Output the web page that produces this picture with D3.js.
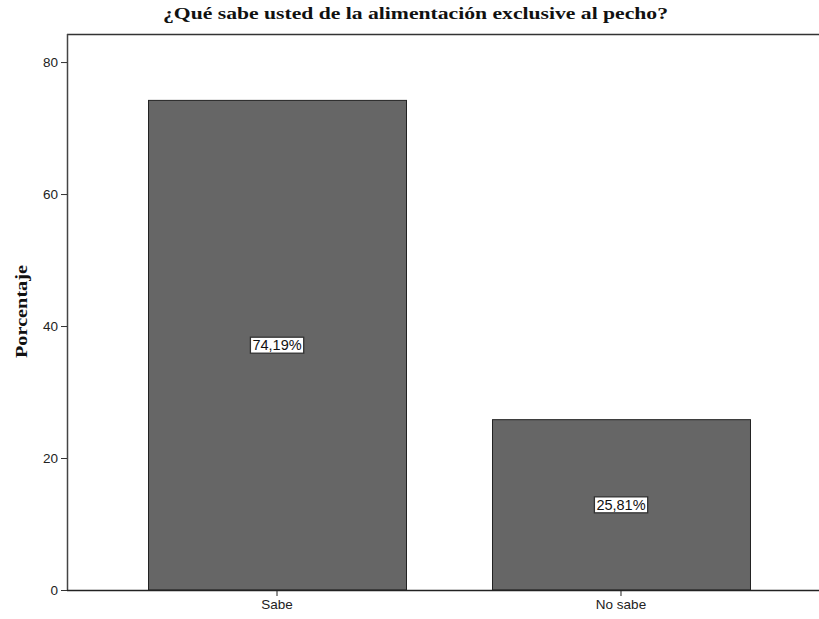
<!DOCTYPE html>
<html><head><meta charset="utf-8">
<script src="https://cdn.jsdelivr.net/npm/d3@7"></script>
<style>body{margin:0;background:#fff;}svg{display:block;}</style>
</head><body>
<script>
const categories = ["Sabe", "No sabe"];
const values = [74.19, 25.81];
const valueLabels = ["74,19%", "25,81%"];
const yTicks = [0, 20, 40, 60, 80];
const title = "¿Qué sabe usted de la alimentación exclusive al pecho?";
const yTitle = "Porcentaje";

const W = 819, H = 619;
const svg = d3.select("body").append("svg").attr("width", W).attr("height", H);

const x0 = 67, x1 = 831, yBottom = 590, yTop = 34;
const y = d3.scaleLinear().domain([0, 84.25]).range([yBottom, yTop]);
const x = d3.scaleBand().domain(categories).range([x0, x1]).paddingInner(0.25).paddingOuter(0.2355);

// top frame line
svg.append("line").attr("x1", x0).attr("x2", W).attr("y1", yTop + 0.5).attr("y2", yTop + 0.5)
  .attr("stroke", "#333").attr("stroke-width", 1.5);

// bars
const g = svg.append("g");
g.selectAll("rect.bar").data(categories).enter().append("rect")
  .attr("class", "bar")
  .attr("x", d => x(d) + 0.5)
  .attr("y", (d, i) => y(values[i]))
  .attr("width", x.bandwidth())
  .attr("height", (d, i) => yBottom - y(values[i]))
  .attr("fill", "#666666").attr("stroke", "#222").attr("stroke-width", 1);

const sans = "Liberation Sans, Arial, sans-serif";
const serif = "Liberation Serif, Times New Roman, serif";

// y axis
const yAxis = d3.axisLeft(y).tickValues(yTicks).tickSize(6).tickSizeOuter(0).tickFormat(d3.format("d"));
const ya = svg.append("g").attr("transform", `translate(${x0},0)`).call(yAxis);
ya.select(".domain").attr("d", `M0.5,${yTop}V${yBottom}`).attr("stroke", "#444").attr("stroke-width", 1.5);
ya.selectAll(".tick line").attr("stroke", "#333");
ya.selectAll(".tick text").attr("font-family", sans).attr("font-size", 13.5).attr("fill", "#222").attr("x", -9);

// x axis
const xAxis = d3.axisBottom(x).tickSize(6).tickSizeOuter(0);
const xa = svg.append("g").attr("transform", `translate(0,${yBottom})`).call(xAxis);
xa.select(".domain").attr("d", `M${x0},0.5H${W}`).attr("stroke", "#222").attr("stroke-width", 1.5);
xa.selectAll(".tick line").attr("stroke", "#222");
xa.selectAll(".tick text").attr("font-family", sans).attr("font-size", 13.5).attr("fill", "#222").attr("y", 9);

// value labels
const lab = svg.append("g").selectAll("g").data(categories).enter().append("g")
  .attr("transform", (d, i) => `translate(${x(d) + x.bandwidth() / 2},${y(values[i] / 2)})`);
lab.append("text").text((d, i) => valueLabels[i])
  .attr("text-anchor", "middle").attr("dy", "0.36em")
  .attr("font-family", sans).attr("font-size", 14.5).attr("fill", "#111");
lab.each(function () {
  const t = d3.select(this).select("text").node().getBBox();
  d3.select(this).insert("rect", "text")
    .attr("x", t.x - 2).attr("y", -8).attr("width", t.width + 4).attr("height", 16)
    .attr("fill", "#fff").attr("stroke", "#333").attr("stroke-width", 1.3);
});

// title
svg.append("text").text(title).attr("x", 163).attr("y", 19)
  .attr("textLength", 505).attr("lengthAdjust", "spacingAndGlyphs")
  .attr("font-family", serif).attr("font-weight", "bold")
  .attr("font-size", 17).attr("fill", "#111");

// y title
svg.append("text").text(yTitle).attr("transform", "translate(27,358) rotate(-90)")
  .attr("textLength", 93).attr("lengthAdjust", "spacingAndGlyphs")
  .attr("font-family", serif).attr("font-weight", "bold")
  .attr("font-size", 17).attr("fill", "#111");
</script>
</body></html>
